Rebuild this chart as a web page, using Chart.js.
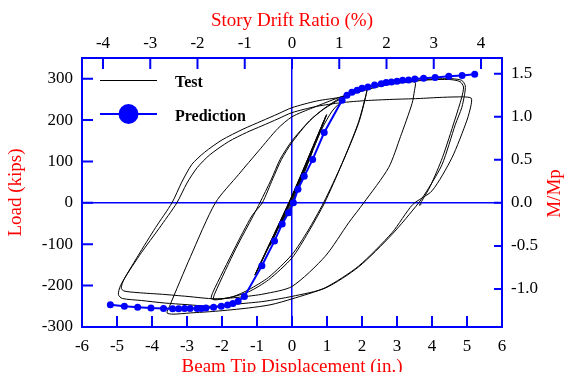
<!DOCTYPE html>
<html>
<head>
<meta charset="utf-8">
<script src="https://cdn.jsdelivr.net/npm/chart.js@4.4.1/dist/chart.umd.min.js"></script>
<style>
  html, body { margin: 0; padding: 0; background: #fff; }
  #wrap { width: 567px; height: 372px; }
</style>
</head>
<body>
<div id="wrap"><canvas id="chart" width="567" height="372"></canvas></div>
<script>
// ============================================================
// data (disp in inches, load in kips)
// ============================================================
const predDisp = [-5.19, -4.79, -4.41, -4.03, -3.67, -3.41, -3.24, -3.07, -2.91, -2.71, -2.59, -2.46, -2.24, -2.02, -1.84, -1.69, -1.54, -1.36,
  -0.86, -0.50, -0.28, -0.10, 0.04, 0.17, 0.35, 0.59, 0.92, 1.43, 1.57, 1.71, 1.86, 2.00, 2.17, 2.36, 2.55, 2.69, 2.84, 3.00, 3.16, 3.33, 3.51,
  3.76, 4.09, 4.48, 4.86, 5.22];
const predLoad = [-246, -250, -252, -254, -255, -256, -256, -255, -255, -255, -255, -254, -252, -250, -247, -243, -238, -226,
  -152, -92, -51, -24, 0, 33, 64, 105, 170, 248, 260, 267, 272, 277, 280, 285, 288, 291, 292, 294, 296, 297, 299,
  301, 303, 306, 308, 311];

// test record, [disp, load] per point, grouped by cycle amplitude
const testElastic = [
  [0, 0], [0.32, 66], [0.14, 24], [-0.36, -60], [-0.17, -25], [0.34, 70],
  [0.58, 124], [0.38, 82], [-0.62, -102], [-0.42, -66], [0.6, 128],
  [0.99, 213], [0.78, 172], [-0.02, 14], [-1.06, -174], [-0.86, -138], [0.02, 20], [0.97, 210], [0.77, 170], [-0.03, 10], [-1.04, -172]
];
const testCycles2in = [
  [-0.5, -78], [0, 12], [0.5, 110], [0.85, 178], [1.15, 222], [1.5, 252], [1.85, 272], [2.14, 283],
  [2.12, 262], [1.9, 192], [1.43, 95], [0.9, 0], [0.45, -68], [0, -125], [-0.67, -180], [-1.24, -210], [-1.7, -227], [-2.24, -234],
  [-2.2, -218], [-1.6, -110], [-1.1, -30], [-0.92, 0], [-0.6, 55], [-0.34, 105], [0, 150], [0.5, 198], [0.9, 226], [1.4, 252], [1.85, 272], [2.14, 281],
  [2.11, 260], [1.88, 190], [1.42, 93], [0.93, 0], [0.46, -72], [0, -133], [-0.67, -186], [-1.24, -215], [-1.8, -229], [-2.3, -232],
  [-2.26, -216], [-1.65, -112], [-1.15, -32], [-0.85, 0], [-0.55, 58], [-0.3, 105], [0, 146], [0.5, 198], [0.9, 227], [1.4, 254],
  [2.2, 279], [2.8, 288], [3.3, 292], [3.52, 291]
];
const testCycles3in = [
  [3.5, 272], [3.43, 240], [3.1, 160], [2.76, 85], [2.05, 0], [1.62, -48], [0.95, -129], [0, -202], [-0.8, -220], [-1.5, -228],
  [-2.2, -232], [-3.0, -226], [-3.7, -221], [-4.4, -217], [-4.8, -213], [-4.88, -206],
  [-4.8, -185], [-4.3, -120], [-3.8, -62], [-3.29, 0], [-3.0, 48], [-2.71, 85], [-2.35, 116], [-1.81, 148], [-1.3, 170], [-0.86, 186],
  [-0.4, 203], [0, 218], [0.7, 233], [1.4, 242], [2.1, 247], [2.86, 250], [3.6, 252], [4.3, 255], [4.9, 256], [5.12, 253],
  [5.12, 238], [5.0, 200], [4.57, 109], [4.0, 29], [3.45, -4], [2.86, -72], [1.9, -153], [0.95, -205], [0, -232], [-0.6, -246],
  [-1.24, -254], [-2.19, -262], [-2.9, -266], [-3.4, -269], [-3.57, -266]
];
const testCycles5in = [
  [-3.5, -250], [-2.9, -130], [-2.19, 0], [-1.52, 69], [-0.95, 126], [-0.4, 180], [0, 208], [0.6, 230], [1.2, 250], [1.8, 268],
  [2.3, 281], [2.8, 289], [3.14, 293], [3.81, 298], [4.3, 300], [4.57, 300], [4.85, 296], [4.95, 283],
  [4.93, 262], [4.85, 230], [4.67, 190], [4.29, 93], [3.9, 35], [3.62, 0], [2.86, -76], [1.9, -155], [0.95, -206], [0, -226],
  [-0.8, -238], [-1.5, -244], [-2.26, -250], [-3.0, -246], [-3.65, -242], [-4.3, -236], [-4.85, -231], [-4.96, -222],
  [-4.9, -200], [-4.4, -128], [-3.9, -60], [-3.43, 0], [-3.15, 50], [-2.86, 93], [-2.5, 122], [-2.0, 152], [-1.4, 178], [-0.86, 198],
  [-0.4, 215], [0, 230], [0.7, 246], [1.43, 256], [2.0, 270], [2.6, 283], [3.2, 291], [3.9, 297], [4.5, 298], [4.8, 293], [4.9, 280],
  [4.85, 255], [4.65, 200], [4.3, 110], [3.95, 40], [3.7, 3], [3.64, -6], [3.7, -3]
];

const dispTicks = [-6, -5, -4, -3, -2, -1, 0, 1, 2, 3, 4, 5, 6];
const loadTicks = [-300, -200, -100, 0, 100, 200, 300];
const driftTicks = [-4, -3, -2, -1, 0, 1, 2, 3, 4];
const ratioTicks = [-1.0, -0.5, 0.0, 0.5, 1.0, 1.5];

const MP = 208;          // kips at M/Mp = 1
const IN_PER_PCT = 1.35; // beam tip inches per 1 % story drift

// ============================================================
const BLUE = '#0000ff';
const RED = '#ff0000';
const SERIF = '"Liberation Serif", "Times New Roman", serif';

const testData = [...testElastic, ...testCycles2in, ...testCycles3in, ...testCycles5in].map(([x, y]) => ({ x, y }));
const predData = predDisp.map((x, i) => ({ x, y: predLoad[i] }));

const setTicks = arr => scale => { scale.ticks = arr.map(v => ({ value: v })); };
const zeroLine = c => (c.tick && c.tick.value === 0) ? BLUE : 'rgba(0,0,0,0)';

// tick marks point into the plot
const inwardTicks = {
  id: 'inwardTicks',
  afterDatasetsDraw(chart) {
    const { ctx, chartArea: a, scales } = chart;
    ctx.save();
    ctx.strokeStyle = BLUE;
    ctx.lineWidth = 2;
    ctx.beginPath();
    scales.x.ticks.forEach(t => { const p = scales.x.getPixelForValue(t.value); ctx.moveTo(p, a.bottom); ctx.lineTo(p, a.bottom - 11); });
    scales.x2.ticks.forEach(t => { const p = scales.x2.getPixelForValue(t.value); ctx.moveTo(p, a.top); ctx.lineTo(p, a.top + 11); });
    scales.y.ticks.forEach(t => { const p = scales.y.getPixelForValue(t.value); ctx.moveTo(a.left, p); ctx.lineTo(a.left + 11, p); });
    scales.y2.ticks.forEach(t => { const p = scales.y2.getPixelForValue(t.value); ctx.moveTo(a.right, p); ctx.lineTo(a.right - 8, p); });
    ctx.stroke();
    ctx.restore();
  }
};

// legend inside the plot (top left) + right axis title read bottom-to-top
const innerLegend = {
  id: 'innerLegend',
  afterDraw(chart) {
    const { ctx, chartArea: a } = chart;
    const x0 = a.left + 18, x1 = a.left + 75, tx = a.left + 93;
    ctx.save();
    ctx.strokeStyle = '#000'; ctx.lineWidth = 1;
    ctx.beginPath(); ctx.moveTo(x0, a.top + 22.5); ctx.lineTo(x1, a.top + 22.5); ctx.stroke();
    ctx.strokeStyle = BLUE; ctx.lineWidth = 2;
    ctx.beginPath(); ctx.moveTo(x0, a.top + 56); ctx.lineTo(x1, a.top + 56); ctx.stroke();
    ctx.fillStyle = BLUE;
    ctx.beginPath(); ctx.arc((x0 + x1) / 2, a.top + 56, 10, 0, Math.PI * 2); ctx.fill();
    ctx.fillStyle = '#000';
    ctx.font = 'bold 16px ' + SERIF;
    ctx.textBaseline = 'alphabetic';
    ctx.fillText('Test', tx, a.top + 28.5);
    ctx.fillText('Prediction', tx, a.top + 62.5);

    ctx.translate(a.right + 53, (a.top + a.bottom) / 2 + 1);
    ctx.rotate(-Math.PI / 2);
    ctx.fillStyle = RED;
    ctx.font = '19px ' + SERIF;
    ctx.textAlign = 'center';
    ctx.textBaseline = 'middle';
    ctx.fillText('M/Mp', 0, 0);
    ctx.restore();
  }
};

const tickFont = { family: SERIF, size: 17 };
const titleFont = { family: SERIF, size: 19 };

new Chart(document.getElementById('chart'), {
  type: 'scatter',
  data: {
    datasets: [
      { label: 'Prediction', data: predData, showLine: true, borderColor: BLUE, backgroundColor: BLUE, borderWidth: 2,
        pointRadius: 3.5, pointBackgroundColor: BLUE, pointBorderWidth: 0, tension: 0, order: 1, xAxisID: 'x', yAxisID: 'y' },
      { label: 'Test', data: testData, showLine: true, borderColor: '#000', borderWidth: 1, pointRadius: 0,
        tension: 0.25, order: 2, xAxisID: 'x', yAxisID: 'y' }
    ]
  },
  options: {
    responsive: false,
    animation: false,
    layout: { padding: 0 },
    plugins: { legend: { display: false }, tooltip: { enabled: false } },
    scales: {
      x: {
        type: 'linear', position: 'bottom', min: -6, max: 6,
        afterBuildTicks: setTicks(dispTicks),
        afterFit: s => { s.height = 45; },
        ticks: { color: '#000', font: tickFont, padding: 9, maxRotation: 0 },
        grid: { color: zeroLine, lineWidth: 1.5, drawTicks: false },
        border: { color: BLUE, width: 2 },
        title: { display: true, text: 'Beam Tip Displacement (in.)', color: RED, font: titleFont, padding: { top: 0, bottom: -6 } }
      },
      x2: {
        type: 'linear', position: 'top', min: -6 / IN_PER_PCT, max: 6 / IN_PER_PCT,
        afterBuildTicks: setTicks(driftTicks),
        afterFit: s => { s.height = 58; },
        ticks: { color: '#000', font: tickFont, padding: 4, maxRotation: 0 },
        grid: { drawOnChartArea: false, drawTicks: false },
        border: { color: BLUE, width: 2 },
        title: { display: true, text: 'Story Drift Ratio (%)', color: RED, font: titleFont, padding: { top: 10, bottom: 0 } }
      },
      y: {
        type: 'linear', position: 'left', min: -300, max: 350,
        afterBuildTicks: setTicks(loadTicks),
        afterFit: s => { s.width = 82; },
        ticks: { color: '#000', font: tickFont, padding: 9 },
        grid: { color: zeroLine, lineWidth: 1.5, drawTicks: false },
        border: { color: BLUE, width: 2 },
        title: { display: true, text: 'Load (kips)', color: RED, font: titleFont, padding: { top: 5, bottom: 0 } }
      },
      y2: {
        type: 'linear', position: 'right', min: -300 / MP, max: 350 / MP,
        afterBuildTicks: setTicks(ratioTicks),
        afterFit: s => { s.width = 65; },
        ticks: { color: '#000', font: tickFont, padding: 9, callback: v => v.toFixed(1) },
        grid: { drawOnChartArea: false, drawTicks: false },
        border: { color: BLUE, width: 2 },
        title: { display: false }
      }
    }
  },
  plugins: [inwardTicks, innerLegend]
});
</script>
</body>
</html>
